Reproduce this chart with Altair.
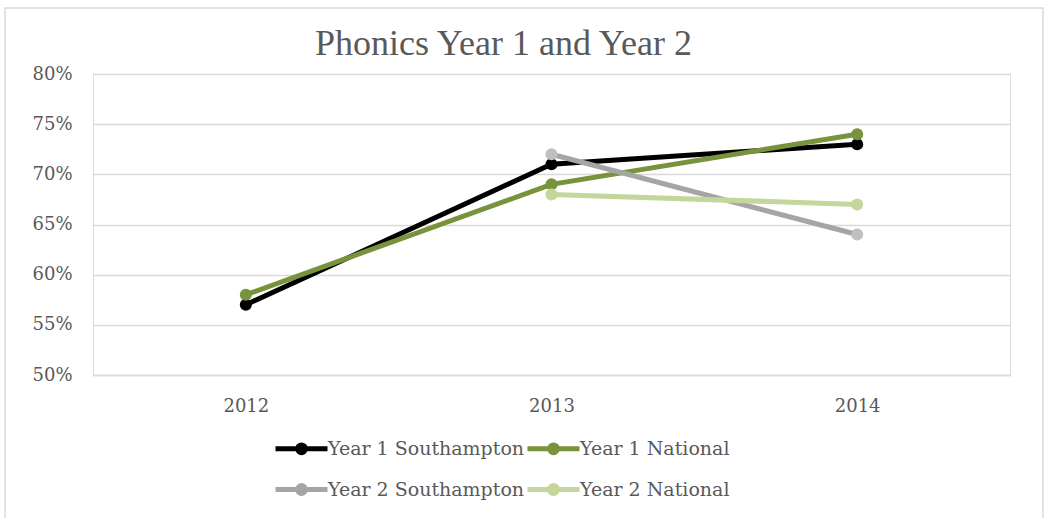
import altair as alt
import pandas as pd

years = ["2012", "2013", "2014"]
series_names = ["Year 1 Southampton", "Year 1 National", "Year 2 Southampton", "Year 2 National"]
y1_southampton = [0.57, 0.71, 0.73]
y1_national = [0.58, 0.69, 0.74]
y2_southampton = [None, 0.72, 0.64]
y2_national = [None, 0.68, 0.67]
line_colors = ["#000000", "#77933C", "#A5A5A5", "#C3D69B"]
point_colors = ["#000000", "#77933C", "#BFBFBF", "#C3D69B"]

rows = []
for name, vals in zip(series_names, [y1_southampton, y1_national, y2_southampton, y2_national]):
    for yr, v in zip(years, vals):
        if v is not None:
            rows.append({"year": yr, "series": name, "value": v})
df = pd.DataFrame(rows)

FONT = "DejaVu Serif"
TFONT = "Liberation Serif"
TXT = "#595959"

x = alt.X("year:N", scale=alt.Scale(type="point", padding=0.5), sort=years,
          axis=alt.Axis(title=None, ticks=False, domain=True, domainColor="#D9D9D9", domainWidth=1.5,
                        labelPadding=22, labelFontSize=18, labelFont=FONT, labelColor=TXT, labelAngle=0))
y = alt.Y("value:Q", scale=alt.Scale(domain=[0.5, 0.8], nice=False),
          axis=alt.Axis(title=None, format=".0%", values=[0.5, 0.55, 0.6, 0.65, 0.7, 0.75, 0.8],
                        ticks=False, domain=False, gridColor="#D9D9D9", gridWidth=1.5,
                        labelPadding=21, labelFontSize=18, labelFont=FONT, labelColor=TXT))

legend = alt.Legend(
    title=None, orient="none", legendX=193, legendY=359, direction="horizontal", columns=2,
    columnPadding=-8, rowPadding=11, padding=0,
    symbolType="M-2,0L2,0M0.3,0A0.3,0.3,0,1,1,-0.3,0A0.3,0.3,0,1,1,0.3,0Z",
    symbolSize=676, symbolStrokeWidth=5, labelFont=FONT, labelFontSize=19, labelColor=TXT,
    labelOffset=11, labelLimit=400,
)

stroke = alt.Stroke("series:N", sort=series_names,
                    scale=alt.Scale(domain=series_names, range=line_colors), legend=legend)
fill = alt.Fill("series:N", sort=series_names,
                scale=alt.Scale(domain=series_names, range=point_colors), legend=legend)

lines = alt.Chart(df).mark_line(strokeWidth=5).encode(x=x, y=y, stroke=stroke)
points = alt.Chart(df).mark_point(filled=True, size=145, opacity=1).encode(x=x, y=y, fill=fill)

frame = alt.Chart(pd.DataFrame({"a": [1]})).mark_rect(fill=None, stroke="#D9D9D9", strokeWidth=1.5).encode(
    x=alt.value(-88), x2=alt.value(950), y=alt.value(-66), y2=alt.value(460))

chart = alt.layer(frame, lines, points).properties(
    width=917, height=301,
    title=alt.TitleParams("Phonics Year 1 and Year 2", font=TFONT, fontSize=36, fontWeight="normal",
                          color=TXT, anchor="middle", dx=-48, offset=0, dy=56),
    autosize=alt.AutoSizeParams(type="none"),
    padding={"left": 93, "top": 74, "right": 35, "bottom": 143},
).configure_view(stroke=None).configure(background="white")

chart.save("out.html", embed_options={"renderer": "svg", "actions": False})
